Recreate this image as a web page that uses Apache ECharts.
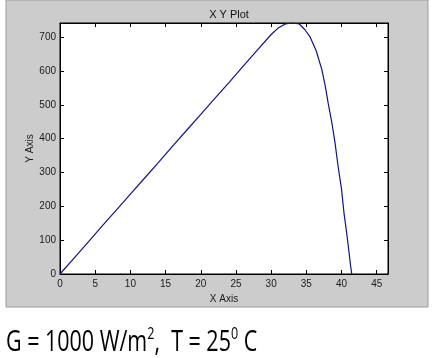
<!DOCTYPE html>
<html>
<head>
<meta charset="utf-8">
<script src="https://cdn.jsdelivr.net/npm/echarts@6/dist/echarts.min.js"></script>
<style>
  html, body { margin: 0; padding: 0; background: #fff; }
  #xyPlot { width: 436px; height: 358px; }
</style>
</head>
<body>
<div id="xyPlot"></div>
<script>
// voltage (X) and power (Y)
const voltage = [0, 2, 4, 6, 8, 10, 12, 14, 16, 18, 20, 22, 24, 26, 28, 30, 31, 32, 33, 34, 34.8, 35.5, 36.4, 37.2, 37.7, 38.1, 38.6, 39.06, 39.5, 40, 40.35, 40.8, 41.3, 41.45]
const power = [0, 47, 94, 142, 189, 236, 283, 330, 378, 425, 472, 519, 566, 614, 661, 708, 727, 739, 742, 739, 722, 702, 660, 604, 554, 505, 450, 390, 320, 250, 180, 110, 22, 0]
const xTicks = [0, 5, 10, 15, 20, 25, 30, 35, 40, 45]
const yTicks = [0, 100, 200, 300, 400, 500, 600, 700]

const labelFont = { fontFamily: 'Liberation Sans', fontSize: 10, color: '#1a1a1a' }
const chart = echarts.init(document.getElementById('xyPlot'), null, { renderer: 'canvas' })

function frameAxis(extra) {
  return Object.assign({
    type: 'value',
    axisLine: { show: true, onZero: false, lineStyle: { color: '#000', width: 1 } },
    axisTick: { show: true, inside: true, length: 4, lineStyle: { color: '#000' } },
    splitLine: { show: false }
  }, extra)
}

const option = {
  animation: false,
  backgroundColor: '#fff',
  graphic: [
    {
      type: 'rect', z: -10,
      shape: { x: 6, y: 0, width: 422, height: 307 },
      style: { fill: '#cccccc', stroke: '#9a9a9a', lineWidth: 1 }
    },
    {
      type: 'text', x: 6, y: 319, scaleX: 0.74,
      style: {
        x: 0, y: 0, verticalAlign: 'top',
        text: '{a|G = 1000 W/m}{s|2}{a|,  T = 25}{s|0}{a| C}',
        rich: {
          a: { fontFamily: 'Open Sans', fontSize: 29, color: '#111', lineHeight: 38, verticalAlign: 'bottom' },
          s: { fontFamily: 'Open Sans', fontSize: 17, color: '#111', lineHeight: 20, verticalAlign: 'top', padding: [7, 0, 0, 0] }
        }
      }
    }
  ],
  title: {
    text: 'X Y Plot',
    left: 224,
    top: 4,
    textAlign: 'center',
    textStyle: { fontFamily: 'Liberation Sans', fontSize: 11, fontWeight: 'normal', color: '#111' }
  },
  grid: {
    left: 60, top: 23, width: 328, height: 251,
    show: true, backgroundColor: '#fff', borderColor: '#000', borderWidth: 1,
    outerBoundsMode: 'none'
  },
  xAxis: [
    frameAxis({
      min: 0, max: 46.6, interval: 5, position: 'bottom',
      name: 'X Axis', nameLocation: 'middle', nameGap: 20, nameMoveOverlap: false,
      nameTextStyle: labelFont,
      axisLabel: Object.assign({ margin: 5, showMaxLabel: false,
        formatter: v => xTicks.includes(v) ? String(v) : '' }, labelFont)
    }),
    frameAxis({
      min: 0, max: 46.6, interval: 5, position: 'top',
      axisLabel: { show: false }
    })
  ],
  yAxis: [
    frameAxis({
      min: 0, max: 742, interval: 100, position: 'left',
      name: 'Y Axis', nameLocation: 'middle', nameGap: 25, nameMoveOverlap: false,
      nameTextStyle: labelFont,
      axisLabel: Object.assign({ margin: 4, showMaxLabel: false,
        formatter: v => yTicks.includes(v) ? String(v) : '' }, labelFont)
    }),
    frameAxis({
      min: 0, max: 742, interval: 100, position: 'right',
      axisLabel: { show: false }
    })
  ],
  series: [
    {
      type: 'line',
      data: voltage.map((v, i) => [v, power[i]]),
      showSymbol: false,
      clip: true,
      lineStyle: { color: '#12128c', width: 1.2 }
    }
  ]
}

chart.setOption(option)
</script>
</body>
</html>
